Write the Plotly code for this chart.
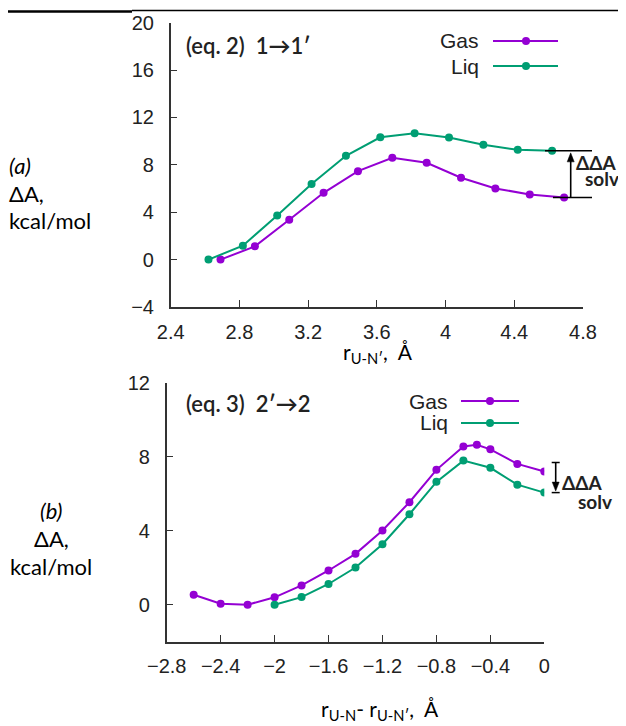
import plotly.graph_objects as go

# ---------------- data ----------------
# panel (a): eq. 2, 1 -> 1'
gas_a_x = [2.69, 2.89, 3.09, 3.29, 3.49, 3.69, 3.89, 4.09, 4.29, 4.49, 4.69]
gas_a_y = [0.0, 1.12, 3.37, 5.64, 7.47, 8.59, 8.17, 6.91, 6.01, 5.50, 5.25]
liq_a_x = [2.62, 2.82, 3.02, 3.22, 3.42, 3.62, 3.82, 4.02, 4.22, 4.42, 4.62]
liq_a_y = [0.0, 1.18, 3.73, 6.38, 8.76, 10.33, 10.67, 10.30, 9.69, 9.27, 9.18]

# panel (b): eq. 3, 2' -> 2
gas_b_x = [-2.6, -2.4, -2.2, -2.0, -1.8, -1.6, -1.4, -1.2, -1.0, -0.8, -0.6, -0.5, -0.4, -0.2, 0.0]
gas_b_y = [0.54, 0.05, 0.0, 0.40, 1.04, 1.85, 2.75, 4.01, 5.54, 7.29, 8.55, 8.65, 8.40, 7.61, 7.20]
liq_b_x = [-2.0, -1.8, -1.6, -1.4, -1.2, -1.0, -0.8, -0.6, -0.4, -0.2, 0.0]
liq_b_y = [0.0, 0.41, 1.12, 2.01, 3.27, 4.89, 6.64, 7.79, 7.40, 6.49, 6.06]

xa_ticks = [2.4, 2.8, 3.2, 3.6, 4.0, 4.4, 4.8]
xa_labels = ["2.4", "2.8", "3.2", "3.6", "4", "4.4", "4.8"]
ya_ticks = [-4, 0, 4, 8, 12, 16, 20]
xb_ticks = [-2.8, -2.4, -2.0, -1.6, -1.2, -0.8, -0.4, 0.0]
xb_labels = ["−2.8", "−2.4", "−2", "−1.6", "−1.2", "−0.8", "−0.4", "0"]
yb_ticks = [0, 4, 8, 12]

# ---------------- layout helpers (screen pixel -> paper) ----------------
W, H = 626, 726
OFF = 8  # page body margin
def PX(px):
    return (px - OFF) / W
def PY(py):
    return 1 - (py - OFF) / H

GAS = "#9400D3"
LIQ = "#009E73"
AX = "#333333"
TXT = "#222222"

# plot-area pixel boxes (screen coords)
A_L, A_R, A_T, A_B = 170.7, 583.0, 22.7, 307.0
B_L, B_R, B_T, B_B = 166.7, 544.3, 382.7, 641.7
A_XR, A_YR = [2.4, 4.8], [-4, 20]
B_XR, B_YR = [-2.8, 0.0], [-2, 12]

a_ppu = (A_B - A_T) / (A_YR[1] - A_YR[0])
b_ppu = (B_B - B_T) / (B_YR[1] - B_YR[0])
def a_py(v):
    return A_B - (v - A_YR[0]) * a_ppu
def b_py(v):
    return B_B - (v - B_YR[0]) * b_ppu

fig = go.Figure()
mk = dict(size=8)
fig.add_trace(go.Scatter(x=gas_a_x, y=gas_a_y, mode="lines+markers", line=dict(color=GAS, width=2),
                         marker=dict(color=GAS, **mk), xaxis="x", yaxis="y", showlegend=False))
fig.add_trace(go.Scatter(x=liq_a_x, y=liq_a_y, mode="lines+markers", line=dict(color=LIQ, width=2),
                         marker=dict(color=LIQ, **mk), xaxis="x", yaxis="y", showlegend=False))
fig.add_trace(go.Scatter(x=gas_b_x, y=gas_b_y, mode="lines+markers", line=dict(color=GAS, width=2),
                         marker=dict(color=GAS, **mk), xaxis="x2", yaxis="y2", showlegend=False))
fig.add_trace(go.Scatter(x=liq_b_x, y=liq_b_y, mode="lines+markers", line=dict(color=LIQ, width=2),
                         marker=dict(color=LIQ, **mk), xaxis="x2", yaxis="y2", showlegend=False))

tickfont = dict(family="Liberation Sans, Arial, sans-serif", size=20, color=TXT)
axcommon = dict(showline=True, linecolor=AX, linewidth=1.5, ticks="inside", ticklen=7,
                tickwidth=1.2, tickcolor=AX, showgrid=False, zeroline=False, tickfont=tickfont,
                fixedrange=True, automargin=False)

fig.update_layout(
    width=W, height=H, margin=dict(l=0, r=0, t=0, b=0, pad=0), autosize=False,
    paper_bgcolor="white", plot_bgcolor="white",
    xaxis=dict(domain=[PX(A_L), PX(A_R)], range=A_XR, tickvals=xa_ticks, ticktext=xa_labels,
               anchor="y", ticklabelstandoff=6, **axcommon),
    yaxis=dict(domain=[PY(A_B), PY(A_T)], range=A_YR, tickvals=ya_ticks, anchor="x",
               ticklabelstandoff=11, **axcommon),
    xaxis2=dict(domain=[PX(B_L), PX(B_R)], range=B_XR, tickvals=xb_ticks, ticktext=xb_labels,
                anchor="y2", ticklabelstandoff=6, **axcommon),
    yaxis2=dict(domain=[PY(B_B), PY(B_T)], range=B_YR, tickvals=yb_ticks, anchor="x2",
                ticklabelstandoff=11, **axcommon),
)

shapes = []
ann = []
LATO = "Lato, Open Sans, sans-serif"

# top rule lines
shapes.append(dict(type="line", xref="paper", yref="paper", x0=PX(0), x1=PX(132), y0=PY(11.5), y1=PY(11.5),
                   line=dict(color="black", width=2.5)))
shapes.append(dict(type="line", xref="paper", yref="paper", x0=PX(132), x1=PX(626), y0=PY(10.5), y1=PY(10.5),
                   line=dict(color="black", width=1.5)))

# left labels
for txt, y in [("<i>(a)</i>", 166), ("ΔA,", 193), ("kcal/mol", 220)]:
    ann.append(dict(xref="paper", yref="paper", x=PX(7), y=PY(y), text=txt, showarrow=False,
                    xanchor="left", yanchor="middle", font=dict(family=LATO, size=22, color="black")))
for txt, y in [("<i>(b)</i>", 510), ("ΔA,", 538), ("kcal/mol", 566)]:
    ann.append(dict(xref="paper", yref="paper", x=PX(51), y=PY(y), text=txt, showarrow=False,
                    xanchor="center", yanchor="middle", font=dict(family=LATO, size=22, color="black")))

# panel titles
ann.append(dict(xref="paper", yref="paper", x=PX(184), y=PY(46), text="(eq. 2)  1<b>→</b>1′", showarrow=False,
                xanchor="left", yanchor="middle", font=dict(family=LATO, size=22, color=TXT, weight=600)))
ann.append(dict(xref="paper", yref="paper", x=PX(184), y=PY(403), text="(eq. 3)  2′<b>→</b>2", showarrow=False,
                xanchor="left", yanchor="middle", font=dict(family=LATO, size=22, color=TXT, weight=600)))

# axis titles
ann.append(dict(xref="paper", yref="paper", x=PX(378), y=PY(353), text="r<sub>U-N′</sub>,  Å", showarrow=False,
                xanchor="center", yanchor="middle", font=dict(family=LATO, size=21, color="black")))
ann.append(dict(xref="paper", yref="paper", x=PX(380), y=PY(710),
                text="r<sub>U-N</sub>- r<sub>U-N′</sub>,  Å", showarrow=False,
                xanchor="center", yanchor="middle", font=dict(family=LATO, size=21, color="black")))

# manual legends (text left of sample)
def legend_entry(label, color, ytxt, xr, l0, l1, m):
    ann.append(dict(xref="paper", yref="paper", x=PX(xr), y=PY(ytxt), text=label, showarrow=False,
                    xanchor="right", yanchor="middle",
                    font=dict(family="Liberation Sans, Arial, sans-serif", size=21, color=TXT)))
    shapes.append(dict(type="line", xref="paper", yref="paper", x0=PX(l0), x1=PX(l1), y0=PY(ytxt), y1=PY(ytxt),
                       line=dict(color=color, width=2)))
    shapes.append(dict(type="circle", xref="paper", yref="paper", x0=PX(m - 4), x1=PX(m + 4),
                       y0=PY(ytxt + 4), y1=PY(ytxt - 4), fillcolor=color, line=dict(color=color, width=0)))

legend_entry("Gas", GAS, 41, 481, 493, 558, 526)
legend_entry("Liq", LIQ, 66, 481, 493, 558, 526)
legend_entry("Gas", GAS, 401, 450, 461, 519, 490)
legend_entry("Liq", LIQ, 423, 450, 461, 519, 490)

def vline(x, y0, y1, w=1.6):
    shapes.append(dict(type="line", xref="paper", yref="paper", x0=PX(x), x1=PX(x), y0=PY(y0), y1=PY(y1),
                       line=dict(color="black", width=w)))
def hline(x0, x1, y, w=1.5):
    shapes.append(dict(type="line", xref="paper", yref="paper", x0=PX(x0), x1=PX(x1), y0=PY(y), y1=PY(y),
                       line=dict(color="black", width=w)))
def head(x, tip, direction):
    # direction: -1 arrow points up, +1 arrow points down
    base = tip - direction * 9
    path = "M {:.5f},{:.5f} L {:.5f},{:.5f} L {:.5f},{:.5f} Z".format(
        PX(x - 3.5), PY(base), PX(x), PY(tip), PX(x + 3.5), PY(base))
    shapes.append(dict(type="path", xref="paper", yref="paper", path=path, fillcolor="black",
                       line=dict(color="black", width=0.5)))

# ΔΔA_solv marker, panel (a)
ya_liq = a_py(liq_a_y[-1])
ya_gas = a_py(gas_a_y[-1])
hline(545, 592, ya_liq)
hline(553, 592, ya_gas)
vline(570.7, ya_gas, ya_liq + 6)
head(570.7, ya_liq + 2, -1)
ann.append(dict(xref="paper", yref="paper", x=PX(574), y=PY(162), text="ΔΔA", showarrow=False,
                xanchor="left", yanchor="middle", font=dict(family=LATO, size=19, color=TXT, weight=700)))
ann.append(dict(xref="paper", yref="paper", x=PX(621), y=PY(178), text="solv", showarrow=False,
                xanchor="right", yanchor="middle", font=dict(family=LATO, size=19, color=TXT, weight=700)))

# ΔΔA_solv marker, panel (b)
yb_gas = b_py(gas_b_y[-1]) - 9
yb_liq = b_py(liq_b_y[-1])
hline(551.7, 559.7, yb_gas)
hline(551.7, 559.7, yb_liq)
vline(555.7, yb_gas, yb_liq - 6)
head(555.7, yb_liq - 1.5, 1)
ann.append(dict(xref="paper", yref="paper", x=PX(560), y=PY(482), text="ΔΔA", showarrow=False,
                xanchor="left", yanchor="middle", font=dict(family=LATO, size=19, color=TXT, weight=700)))
ann.append(dict(xref="paper", yref="paper", x=PX(614), y=PY(501), text="solv", showarrow=False,
                xanchor="right", yanchor="middle", font=dict(family=LATO, size=19, color=TXT, weight=700)))

fig.update_layout(shapes=shapes, annotations=ann)
fig.write_html("out.html")
